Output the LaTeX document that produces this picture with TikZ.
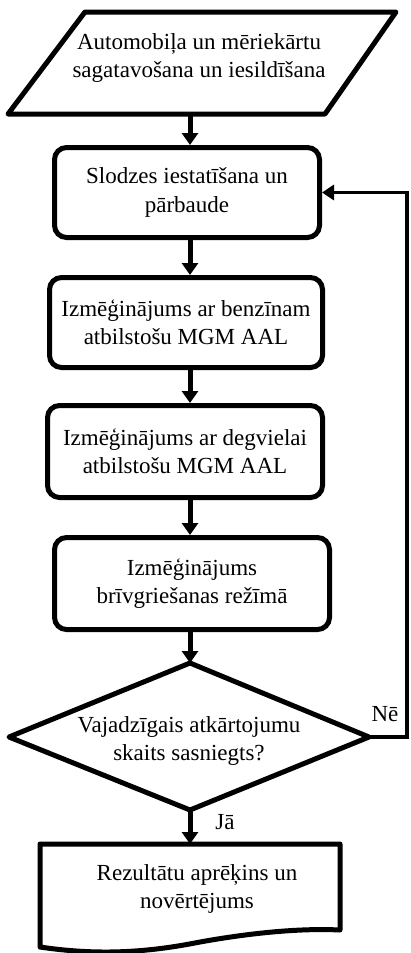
\documentclass[tikz,border=0pt]{standalone}
\usepackage{fontspec}
\setmainfont{Liberation Serif}
\usetikzlibrary{arrows.meta}
\begin{document}
\begin{tikzpicture}[x=1pt,y=-1pt,
  shp/.style={draw, line width=5pt, line join=round},
  box/.style={draw, line width=5pt, rounded corners=12pt, align=center, inner sep=0pt, font=\fontsize{23}{28.5}\selectfont},
  txt/.style={align=center, inner sep=0pt, font=\fontsize{23}{28.5}\selectfont},
  arr/.style={line width=5pt, -{Triangle[length=12pt,width=16pt]}},
  arrthin/.style={line width=3.5pt, -{Triangle[length=12pt,width=15pt]}},
  lbl/.style={inner sep=0pt, font=\fontsize{23}{26}\selectfont}]
\useasboundingbox (0,0) rectangle (410,953);

% input parallelogram
\draw[shp] (85,12) -- (396,12) -- (325,114) -- (8,114) -- cycle;
\node[txt] (inp) at (199,58) {Automobiļa un mēriekārtu\\sagatavošana un iesildīšana};
\coordinate (inb) at (190,114);

% process boxes
\node[box, minimum width=265pt, minimum height=90pt] (b1) at (187,192.5) {Slodzes iestatīšana un\\pārbaude};
\node[box, minimum width=273pt, minimum height=90pt] (b2) at (186,322.5) {Izmēģinājums ar benzīnam\\atbilstošu MGM AAL};
\node[box, minimum width=275pt, minimum height=92pt] (b3) at (185,451.5) {Izmēģinājums ar degvielai\\atbilstošu MGM AAL};
\node[box, minimum width=275pt, minimum height=92pt] (b4) at (192,583.5) {Izmēģinājums\\brīvgriešanas režīmā};

% decision diamond
\coordinate (dt) at (190,663);
\coordinate (dl) at (9,737);
\coordinate (dr) at (369,737);
\coordinate (db) at (190,810);
\draw[shp] (dt) -- (dr) -- (db) -- (dl) -- cycle;
\node[txt] (dec) at (189,741) {Vajadzīgais atkārtojumu\\skaits sasniegts?};

% document shape
\coordinate (doct) at (190,844);
\draw[shp] (40,844) -- (340,844) -- (340,930)
  .. controls (300,928) and (250,933) .. (200,942)
  .. controls (150,952) and (100,956) .. (40,947) -- cycle;
\node[txt] (res) at (197,889) {Rezultātu aprēķins un\\novērtējums};

% connectors
\draw[arr] (inb) -- (inb |- b1.north);
\draw[arr] (b1.south -| inb) -- (inb |- b2.north);
\draw[arr] (b2.south -| inb) -- (inb |- b3.north);
\draw[arr] (b3.south -| inb) -- (inb |- b4.north);
\draw[arr] (b4.south -| inb) -- (dt);
\draw[arr] (db) -- (doct);
\draw[arrthin] (dr) -- ++(38,0) |- (b1.east);

\node[lbl] (ne) at (385,714) {Nē};
\node[lbl] (ja) at (225,822) {Jā};
\end{tikzpicture}
\end{document}
